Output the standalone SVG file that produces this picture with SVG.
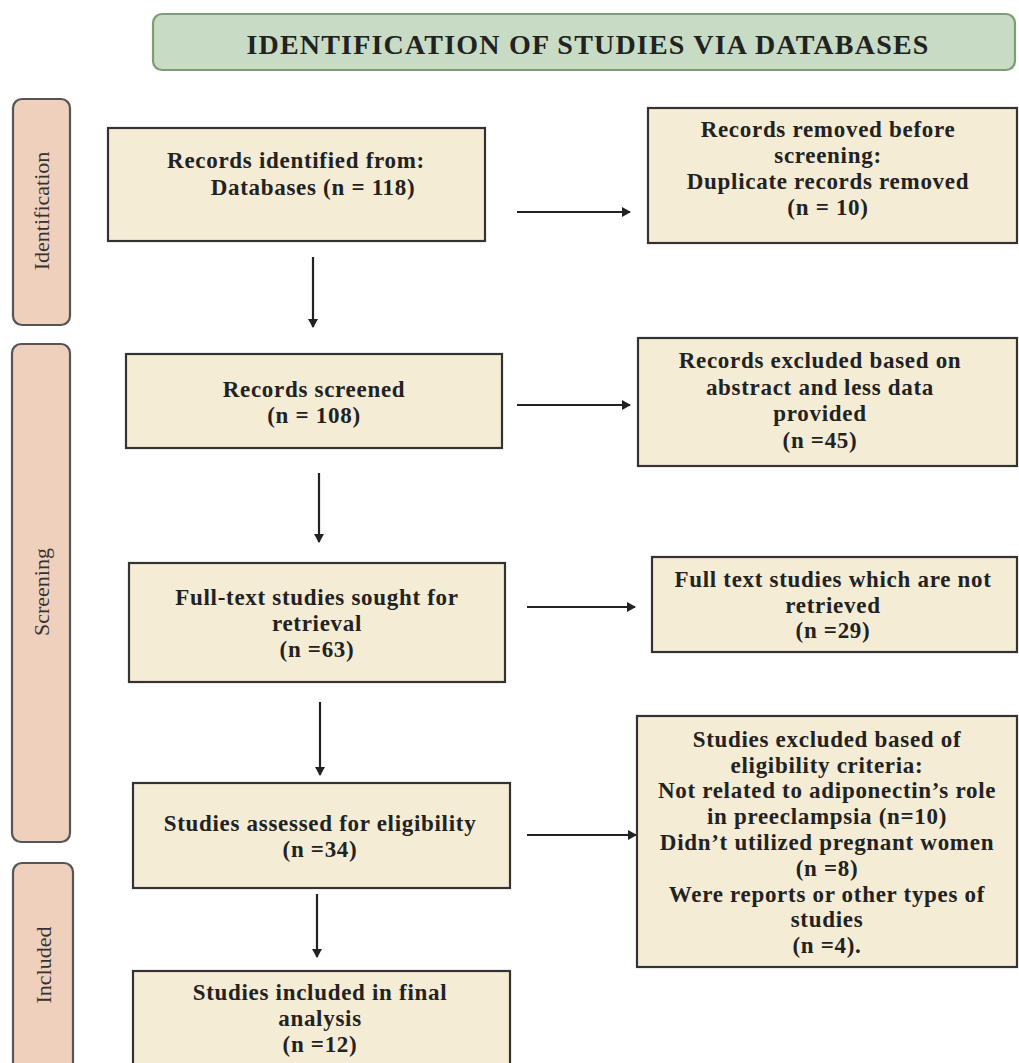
<svg xmlns="http://www.w3.org/2000/svg" width="1019" height="1063" viewBox="0 0 1019 1063">
<defs>
<style>
.box{fill:#f5ecd6;stroke:#333;stroke-width:2.2}
.lane{fill:#efd0bd;stroke:#555;stroke-width:2.2}
.t{font-family:"Liberation Serif","Times New Roman",serif;font-weight:bold;font-size:23px;fill:#222;text-anchor:middle;letter-spacing:0.7px}
.lt{font-family:"Liberation Serif","Times New Roman",serif;font-size:22px;fill:#333;text-anchor:middle}
.c{stroke:#222;stroke-width:2.2;fill:none;marker-end:url(#ah)}
</style>
<marker id="ah" markerWidth="10" markerHeight="10" refX="8" refY="5" orient="auto" markerUnits="userSpaceOnUse">
<path d="M0,0 L9,5 L0,10 Z" fill="#222"/>
</marker>
</defs>
<rect width="1019" height="1063" fill="#fff"/>
<g id="title">
<rect x="153" y="14" width="862" height="56" rx="9" fill="#c8dcc5" stroke="#7e9c76" stroke-width="2.2"/>
<text x="588" y="54" font-family="Liberation Serif,serif" font-weight="bold" font-size="28" fill="#222" text-anchor="middle" letter-spacing="1.2">IDENTIFICATION OF STUDIES VIA DATABASES</text>
</g>
<g id="lane-identification">
<rect class="lane" x="13" y="99" width="57" height="226" rx="9"/>
<text class="lt" transform="translate(49,211) rotate(-90)">Identification</text>
</g>
<g id="lane-screening">
<rect class="lane" x="12" y="344" width="58" height="498" rx="9"/>
<text class="lt" transform="translate(49,592) rotate(-90)">Screening</text>
</g>
<g id="lane-included">
<rect class="lane" x="13" y="863" width="60" height="215" rx="9"/>
<text class="lt" transform="translate(51,965) rotate(-90)">Included</text>
</g>
<g id="records-identified">
<rect class="box" x="108" y="128" width="377" height="113"/>
<text class="t" x="296" y="168">Records identified from:</text>
<text class="t" x="313" y="195">Databases (n = 118)</text>
</g>
<g id="records-removed">
<rect class="box" x="648" y="108" width="369" height="135"/>
<text class="t" x="828" y="137">Records removed before</text>
<text class="t" x="828" y="163">screening:</text>
<text class="t" x="828" y="189">Duplicate records removed</text>
<text class="t" x="828" y="215">(n = 10)</text>
</g>
<g id="records-screened">
<rect class="box" x="126" y="354" width="376" height="94"/>
<text class="t" x="314" y="397">Records screened</text>
<text class="t" x="314" y="423">(n = 108)</text>
</g>
<g id="records-excluded">
<rect class="box" x="638" y="338" width="379" height="128"/>
<text class="t" x="820" y="368">Records excluded based on</text>
<text class="t" x="820" y="395">abstract and less data</text>
<text class="t" x="820" y="421">provided</text>
<text class="t" x="820" y="448">(n =45)</text>
</g>
<g id="full-text-sought">
<rect class="box" x="129" y="563" width="376" height="119"/>
<text class="t" x="317" y="605">Full-text studies sought for</text>
<text class="t" x="317" y="631">retrieval</text>
<text class="t" x="317" y="657">(n =63)</text>
</g>
<g id="not-retrieved">
<rect class="box" x="652" y="557" width="365" height="95"/>
<text class="t" x="833" y="587">Full text studies which are not</text>
<text class="t" x="833" y="613">retrieved</text>
<text class="t" x="833" y="638">(n =29)</text>
</g>
<g id="assessed">
<rect class="box" x="133" y="783" width="377" height="105"/>
<text class="t" x="320" y="831">Studies assessed for eligibility</text>
<text class="t" x="320" y="857">(n =34)</text>
</g>
<g id="studies-excluded">
<rect class="box" x="637" y="716" width="380" height="251"/>
<text class="t" x="827" y="747">Studies excluded based of</text>
<text class="t" x="827" y="773">eligibility criteria:</text>
<text class="t" x="827" y="798">Not related to adiponectin’s role</text>
<text class="t" x="827" y="824">in preeclampsia (n=10)</text>
<text class="t" x="827" y="850">Didn’t utilized pregnant women</text>
<text class="t" x="827" y="876">(n =8)</text>
<text class="t" x="827" y="902">Were reports or other types of</text>
<text class="t" x="827" y="927">studies</text>
<text class="t" x="827" y="953">(n =4).</text>
</g>
<g id="included">
<rect class="box" x="133" y="971" width="377" height="110"/>
<text class="t" x="320" y="1000">Studies included in final</text>
<text class="t" x="320" y="1026">analysis</text>
<text class="t" x="320" y="1052">(n =12)</text>
</g>
<g id="connectors">
<line class="c" x1="313" y1="257" x2="313" y2="327"/>
<line class="c" x1="319" y1="473" x2="319" y2="542"/>
<line class="c" x1="320" y1="702" x2="320" y2="775"/>
<line class="c" x1="317" y1="894" x2="317" y2="957"/>
<line class="c" x1="517" y1="212" x2="630" y2="212"/>
<line class="c" x1="517" y1="405" x2="630" y2="405"/>
<line class="c" x1="527" y1="607" x2="635" y2="607"/>
<line class="c" x1="527" y1="835" x2="636" y2="835"/>
</g>
</svg>
